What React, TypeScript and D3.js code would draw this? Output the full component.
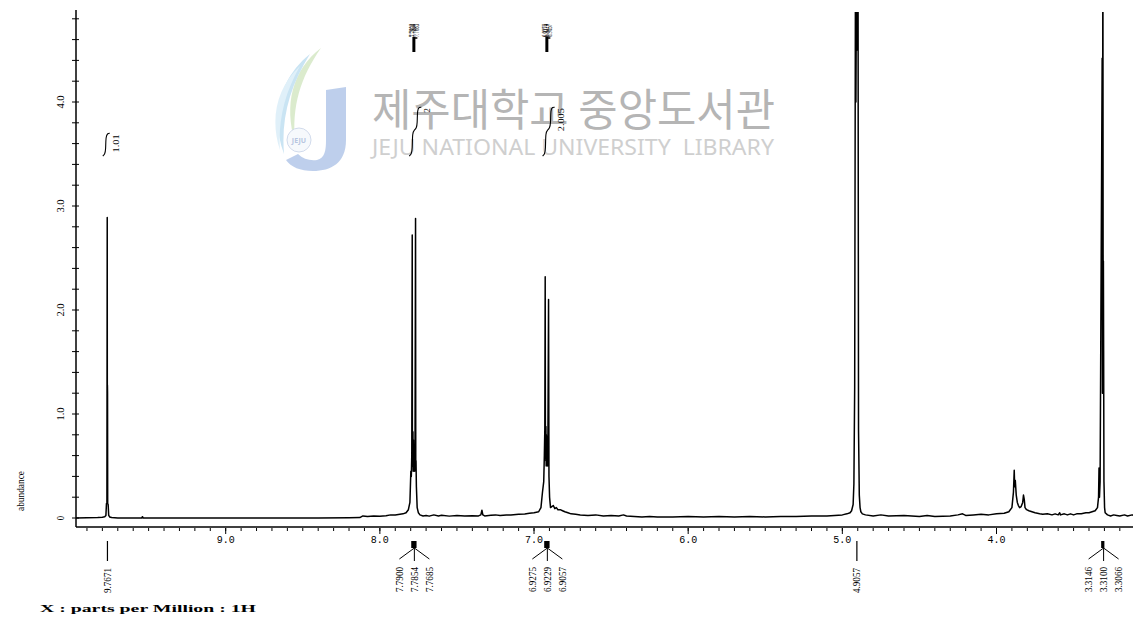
import React from 'react';
import * as d3 from 'd3';

type P = [number, number];

// ---- axis ticks ----
const xTickValues = [9, 8, 7, 6, 5, 4];
const xTickLabels = ['9.0', '8.0', '7.0', '6.0', '5.0', '4.0'];
const yTickValues = [0, 1, 2, 3, 4];
const yTickLabels = ['0', '1.0', '2.0', '3.0', '4.0'];

// ---- spectrum, [ppm, abundance] ----
const segLeft: P[] = [
  [9.975, 0], [9.9, 0.002], [9.83, 0.004], [9.8, 0.008],
];
const peak977: P[] = [
  [9.785, 0.012], [9.777, 0.025], [9.7735, 0.14], [9.7705, 0.14], [9.7685, 2.89],
  [9.768, 1.25], [9.7675, 1.28], [9.7671, 1.27], [9.7665, 1.2], [9.7655, 0.14],
  [9.7625, 0.13], [9.759, 0.025], [9.752, 0.01],
];
const seg9to8: P[] = [
  [9.74, 0.004], [9.7, 0], [9.6, 0], [9.545, 0], [9.54, 0.012], [9.535, 0],
  [9.4, 0], [9.2, 0], [9.0, 0], [8.8, 0], [8.6, 0.001], [8.4, 0.001], [8.2, 0.002],
  [8.13, 0.004], [8.11, 0.02], [8.08, 0.015], [8.04, 0.02], [8.0, 0.018], [7.96, 0.022],
  [7.93, 0.03], [7.9, 0.028], [7.87, 0.035], [7.85, 0.04], [7.83, 0.05], [7.815, 0.08],
];
const peak779: P[] = [
  [7.805, 0.15], [7.799, 0.45], [7.796, 0.4], [7.793, 0.6], [7.79, 2.72], [7.789, 0.55],
  [7.788, 0.8], [7.7865, 0.5], [7.7854, 0.83], [7.784, 0.45], [7.782, 0.75], [7.78, 0.5],
  [7.778, 0.62], [7.776, 0.45], [7.775, 0.7], [7.773, 0.5], [7.772, 0.58], [7.7685, 2.88],
  [7.767, 0.45], [7.7655, 0.55], [7.763, 0.3], [7.758, 0.1], [7.75, 0.05],
];
const seg7: P[] = [
  [7.74, 0.03], [7.72, 0.02], [7.7, 0.025], [7.68, 0.018], [7.65, 0.03], [7.62, 0.02],
  [7.6, 0.026], [7.55, 0.018], [7.5, 0.025], [7.45, 0.02], [7.4, 0.022], [7.36, 0.02],
  [7.345, 0.03], [7.338, 0.075], [7.332, 0.03], [7.32, 0.02], [7.28, 0.026], [7.25, 0.03],
  [7.22, 0.024], [7.18, 0.03], [7.15, 0.028], [7.1, 0.035], [7.06, 0.038], [7.03, 0.045],
  [7.0, 0.05], [6.97, 0.06], [6.955, 0.1],
];
const peak692: P[] = [
  [6.945, 0.25], [6.937, 0.35], [6.933, 0.6], [6.93, 0.85], [6.9275, 2.32], [6.926, 0.6],
  [6.925, 0.85], [6.9235, 0.55], [6.9229, 0.88], [6.921, 0.5], [6.92, 0.8], [6.917, 0.55],
  [6.915, 0.78], [6.912, 0.5], [6.91, 0.7], [6.9057, 2.1], [6.903, 0.4], [6.899, 0.2],
  [6.893, 0.1],
];
const seg6: P[] = [
  [6.885, 0.11], [6.875, 0.12], [6.865, 0.09], [6.855, 0.1], [6.845, 0.08], [6.83, 0.08],
  [6.815, 0.07], [6.8, 0.06], [6.78, 0.05], [6.76, 0.04], [6.73, 0.035], [6.7, 0.03],
  [6.65, 0.025], [6.6, 0.03], [6.55, 0.02], [6.5, 0.025], [6.45, 0.02], [6.42, 0.03],
  [6.4, 0.02], [6.35, 0.015], [6.3, 0.01], [6.25, 0.015], [6.2, 0.01], [6.1, 0.01],
  [6.0, 0.015], [5.9, 0.01], [5.8, 0.015], [5.7, 0.01], [5.6, 0.015], [5.5, 0.01],
  [5.4, 0.015], [5.3, 0.015], [5.2, 0.02], [5.1, 0.02], [5.05, 0.025], [5.0, 0.03],
  [4.97, 0.04], [4.95, 0.05],
];
const peak491: P[] = [
  [4.94, 0.07], [4.93, 0.13], [4.925, 0.33], [4.92, 1.25], [4.915, 5.2], [4.912, 4.0],
  [4.9057, 6.0], [4.902, 4.5], [4.898, 5.0], [4.895, 0.85], [4.89, 0.22], [4.885, 0.1],
  [4.88, 0.06], [4.87, 0.04],
];
const seg4: P[] = [
  [4.85, 0.03], [4.8, 0.02], [4.75, 0.03], [4.7, 0.02], [4.6, 0.025], [4.5, 0.015],
  [4.45, 0.025], [4.4, 0.015], [4.3, 0.02], [4.25, 0.03], [4.22, 0.04], [4.2, 0.025],
  [4.15, 0.03], [4.1, 0.035], [4.05, 0.03], [4.0, 0.04], [3.95, 0.045], [3.92, 0.06],
];
const peak388: P[] = [
  [3.9, 0.1], [3.89, 0.25], [3.885, 0.46], [3.882, 0.3], [3.878, 0.36], [3.872, 0.22],
  [3.865, 0.15], [3.858, 0.12], [3.85, 0.1], [3.84, 0.11], [3.83, 0.15], [3.825, 0.22],
  [3.82, 0.18], [3.815, 0.1], [3.805, 0.08],
];
const seg35: P[] = [
  [3.79, 0.07], [3.77, 0.06], [3.75, 0.05], [3.72, 0.04], [3.7, 0.035], [3.67, 0.04],
  [3.64, 0.03], [3.62, 0.04], [3.6, 0.03], [3.59, 0.05], [3.585, 0.03], [3.56, 0.04],
  [3.54, 0.03], [3.52, 0.04], [3.5, 0.03], [3.48, 0.04], [3.45, 0.04], [3.42, 0.05],
  [3.4, 0.05], [3.38, 0.06], [3.36, 0.07], [3.345, 0.1],
];
const peak331: P[] = [
  [3.338, 0.2], [3.335, 0.48], [3.332, 0.2], [3.328, 0.35], [3.3146, 4.42], [3.3125, 1.2],
  [3.31, 6.0], [3.308, 1.65], [3.3066, 2.47], [3.305, 1.6], [3.303, 0.35], [3.299, 0.1],
  [3.295, 0.05],
];
const segRight: P[] = [
  [3.28, 0.03], [3.26, 0.02], [3.24, 0.03], [3.22, 0.025], [3.2, 0.02], [3.17, 0.03],
  [3.15, 0.02], [3.12, 0.03], [3.1, 0.02],
];
const spectrum: P[] = [
  ...segLeft, ...peak977, ...seg9to8, ...peak779, ...seg7, ...peak692, ...seg6,
  ...peak491, ...seg4, ...peak388, ...seg35, ...peak331, ...segRight,
];

// ---- peak picking ----
const singletShifts = [9.7671, 4.9057];
const singletLabels = ['9.7671', '4.9057'];
const multipletShifts = [
  [7.79, 7.7854, 7.7685],
  [6.9275, 6.9229, 6.9057],
  [3.3146, 3.31, 3.3066],
];
const multipletLabels = [
  ['7.7900', '7.7854', '7.7685'],
  ['6.9275', '6.9229', '6.9057'],
  ['3.3146', '3.3100', '3.3066'],
];

// ---- integrals, [ppm, level] ----
const integral1: P[] = [
  [9.797, 3.48], [9.784, 3.5], [9.778, 3.54], [9.778, 3.67], [9.765, 3.7], [9.752, 3.7],
];
const integral2: P[] = [
  [7.809, 3.48], [7.796, 3.5], [7.789, 3.54], [7.789, 3.71], [7.776, 3.73], [7.763, 3.75],
  [7.757, 3.79], [7.757, 3.93], [7.744, 3.95], [7.731, 3.95],
];
const integral3: P[] = [
  [6.944, 3.48], [6.931, 3.5], [6.925, 3.54], [6.925, 3.71], [6.912, 3.73], [6.899, 3.75],
  [6.892, 3.79], [6.892, 3.93], [6.88, 3.95], [6.866, 3.95],
];
const integralCurves = [integral1, integral2, integral3];
const integralValues = ['1.01', '2', '2.005'];

const SERIF = "'Liberation Serif', 'DejaVu Serif', serif";
const MONO = "'Liberation Mono', 'DejaVu Sans Mono', monospace";

function VText(props: { x: number; y: number; text: string; len?: number; size?: number; anchor?: string }) {
  const { x, y, text, len, size = 10, anchor = 'end' } = props;
  return (
    <text
      transform={`translate(${x},${y}) rotate(-90)`}
      textAnchor={anchor}
      fontFamily={SERIF}
      fontSize={size}
      fill="#000"
      {...(len ? { textLength: len, lengthAdjust: 'spacingAndGlyphs' } : {})}
    >
      {text}
    </text>
  );
}

export default function App() {
  const W = 1133;
  const H = 618;
  const left = 76;
  const right = 1133;
  const top = 12;
  const axisY = 527;

  const x = d3.scaleLinear().domain([9, 4]).range([225.7, 996.5]);
  const y = d3.scaleLinear().domain([0, 4]).range([518, 102]);
  const line = d3.line<P>().x((d) => x(d[0])).y((d) => y(d[1]));
  const intLine = d3
    .line<P>()
    .x((d) => x(d[0]))
    .y((d) => y(d[1]))
    .curve(d3.curveBasis);

  const xMinor = d3.range(32, 100).map((i) => i / 10);
  const yMinor = d3.range(0, 25).map((i) => i / 5);

  return (
    <svg width={W} height={H} style={{ position: 'absolute', left: 0, top: 0 }}>
      <rect width={W} height={H} fill="#fff" />
      <defs>
        <clipPath id="plotClip">
          <rect x={left} y={top} width={right - left} height={axisY - top} />
        </clipPath>
      </defs>

      {/* watermark logo */}
      <g opacity={0.75}>
        <path d="M 321 48 C 292 70 284 105 295 142 C 292 106 300 78 321 48 Z" fill="#cfe5bd" />
        <path d="M 310 54 C 280 78 270 116 284 154 C 281 118 290 86 310 54 Z" fill="#b8dbf0" />
        <path d="M 300 66 C 276 88 270 120 280 150 C 278 122 284 94 300 66 Z" fill="#d6ecf8" />
        <path
          d="M 326 90 L 346 87 L 346 140 C 346 163 331 171 313 171 C 300 171 291 167 286 160 L 298 154 C 303 159 310 161 317 160 C 325 158 326 150 326 140 Z"
          fill="#a9c0e6"
        />
        <circle cx={299} cy={140} r={12} fill="#f4f7fc" stroke="#c3d0e6" strokeWidth={1} />
        <text x={299} y={143} textAnchor="middle" fontFamily="'Noto Sans', sans-serif" fontSize={7} fontWeight="bold" fill="#9fb3d6">
          JEJU
        </text>
      </g>
      <text
        x={372}
        y={126}
        fontFamily="'Noto Sans CJK KR', 'Noto Sans CJK SC', sans-serif"
        fontSize={44}
        fill="#b5b5b5"
        textLength={403}
        lengthAdjust="spacingAndGlyphs"
      >
        제주대학교 중앙도서관
      </text>
      <text
        x={372}
        y={155}
        fontFamily="'Noto Sans', 'DejaVu Sans', sans-serif"
        fontSize={22}
        fill="#cfcfcf"
        textLength={402}
        lengthAdjust="spacingAndGlyphs"
        style={{ whiteSpace: 'pre' }}
      >
        JEJU NATIONAL UNIVERSITY  LIBRARY
      </text>

      {/* spectrum */}
      <path
        d={line(spectrum) || ''}
        fill="none"
        stroke="#000"
        strokeWidth={1.5}
        strokeLinejoin="round"
        clipPath="url(#plotClip)"
      />

      {/* integrals */}
      {integralCurves.map((c, i) => {
        const end = c[c.length - 1];
        const topLevel = d3.max(c, (d) => d[1]) as number;
        return (
          <g key={'int' + i}>
            <path d={intLine(c) || ''} fill="none" stroke="#000" strokeWidth={1.1} />
            <VText x={x(end[0]) + 9} y={y(topLevel) + 1} text={integralValues[i]} size={9} len={integralValues[i].length * 4.6} />
          </g>
        );
      })}

      {/* y axis */}
      <line x1={left} y1={top - 2} x2={left} y2={axisY} stroke="#000" strokeWidth={1.5} />
      {yMinor.map((v) => (
        <line key={'ym' + v} x1={left - 4} x2={left + 3} y1={y(v)} y2={y(v)} stroke="#000" strokeWidth={1} />
      ))}
      {yTickValues.map((v, i) => (
        <VText key={'yl' + v} x={64} y={y(v)} anchor="middle" text={yTickLabels[i]} size={10} len={yTickLabels[i].length * 4.4} />
      ))}
      <VText x={24} y={491} anchor="middle" text="abundance" size={10} len={40} />

      {/* x axis */}
      <line x1={left} y1={axisY} x2={right} y2={axisY} stroke="#000" strokeWidth={1.5} />
      {xMinor.map((v) => (
        <line key={'xm' + v} x1={x(v)} x2={x(v)} y1={axisY + 1} y2={axisY + 4} stroke="#000" strokeWidth={1} />
      ))}
      {xTickValues.map((v, i) => (
        <g key={'xl' + v}>
          <line x1={x(v)} x2={x(v)} y1={axisY + 1} y2={axisY + 7} stroke="#000" strokeWidth={1} />
          <text x={x(v)} y={axisY + 16} textAnchor="middle" fontFamily={MONO} fontSize={10} fill="#000">
            {xTickLabels[i]}
          </text>
        </g>
      ))}

      {/* singlet peak labels */}
      {singletShifts.map((s, i) => (
        <g key={'s' + s}>
          <line x1={x(s)} x2={x(s)} y1={541} y2={561} stroke="#000" strokeWidth={1.2} />
          <VText x={x(s) + 3.5} y={568} text={singletLabels[i]} size={10} len={25} />
        </g>
      ))}

      {/* multiplet peak labels */}
      {multipletShifts.map((g, gi) => {
        const xs = g.map((s) => x(s));
        const cx = (d3.mean(xs) as number) + 0.8;
        const x0 = (d3.min(xs) as number) - 1;
        const x1 = (d3.max(xs) as number) + 1;
        const offs = [-15, 0, 15];
        return (
          <g key={'m' + gi}>
            <rect x={x0} y={541} width={x1 - x0} height={7} fill="#000" />
            {offs.map((o) => (
              <line key={o} x1={cx} y1={548} x2={cx + o} y2={o === 0 ? 561 : 559} stroke="#000" strokeWidth={1} />
            ))}
            {offs.map((o, k) => (
              <VText key={'t' + k} x={cx + o + 3.5} y={567} text={multipletLabels[gi][k]} size={10} len={25} />
            ))}
            {gi < 2 && (
              <g>
                {xs.map((px, k) => (
                  <VText key={'top' + k} x={px + 3} y={24} text={multipletLabels[gi][k]} size={8} len={13} />
                ))}
                <line x1={cx - 0.5} x2={cx - 0.5} y1={37} y2={52} stroke="#000" strokeWidth={3} />
                <line x1={cx - 0.5} x2={cx + 3} y1={38} y2={38} stroke="#000" strokeWidth={1.5} />
              </g>
            )}
          </g>
        );
      })}

      {/* x axis title */}
      <text x={40} y={612} fontFamily={SERIF} fontSize={10} fontWeight="bold" fill="#000" textLength={216} lengthAdjust="spacingAndGlyphs" style={{ whiteSpace: 'pre' }}>
        X : parts per Million : 1H
      </text>
    </svg>
  );
}
